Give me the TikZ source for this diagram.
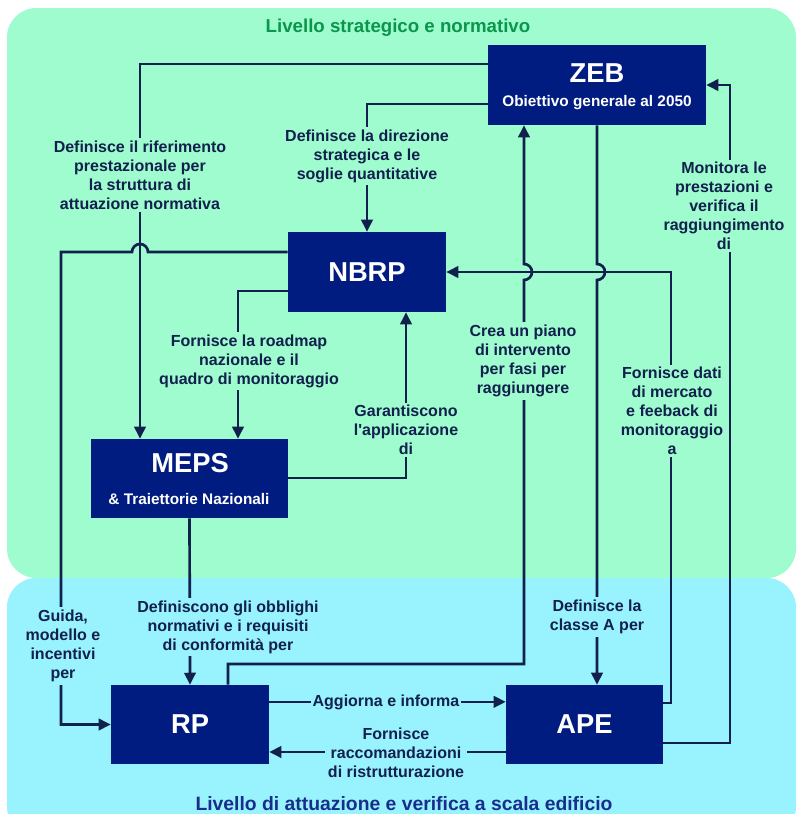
\documentclass[tikz,border=0pt]{standalone}
\usepackage{fontspec}
\setmainfont{Liberation Sans}
\usetikzlibrary{arrows.meta}

\definecolor{panelgreen}{RGB}{158,252,206}
\definecolor{panelblue}{RGB}{152,243,254}
\definecolor{boxnavy}{RGB}{0,28,128}
\definecolor{linenavy}{RGB}{18,32,78}
\definecolor{titlegreen}{RGB}{10,150,75}
\definecolor{titleblue}{RGB}{25,45,140}

\tikzset{
  block/.style={fill=boxnavy, inner sep=0pt},
  blocktxt/.style={text=white, font=\bfseries\fontsize{20.5}{24}\selectfont, inner sep=0pt},
  subtxt/.style={text=white, font=\bfseries\fontsize{11.5}{14}\selectfont, inner sep=0pt},
  lbl/.style={font=\bfseries\fontsize{12}{14.2}\selectfont, text=linenavy, align=center, inner sep=2pt},
  conn/.style={draw=linenavy, line width=2pt},
  arr/.style={conn, -{Triangle[length=9pt,width=8.5pt]}}
}

\begin{document}
\begin{tikzpicture}[x=0.75pt,y=0.75pt,yscale=-1,xscale=1]
\useasboundingbox (0,0) rectangle (797,814);

% Panels
\fill [panelgreen, rounded corners=22pt] (7,8) rectangle (796,578);
\fill [panelblue, rounded corners=22pt] (7,578) rectangle (796,836);
\node [anchor=base, text=titlegreen, font=\bfseries\fontsize{14}{16}\selectfont] (toptitle) at (398,32) {Livello strategico e normativo};
\node [anchor=base, text=titleblue, font=\bfseries\fontsize{14.5}{16}\selectfont] (bottitle) at (404,810) {Livello di attuazione e verifica a scala edificio};

% Blocks
\node [block, minimum width=163.5pt, minimum height=60pt] (zeb) at (597,85) {};
\node [blocktxt] (zebtxt) at (597,73) {ZEB};
\node [subtxt] (zebsub) at (597,103) {Obiettivo generale al 2050};
\node [block, minimum width=118.5pt, minimum height=60pt] (nbrp) at (367,272) {};
\node [blocktxt] (nbrptxt) at (367,272) {NBRP};
\node [block, minimum width=147.75pt, minimum height=59.25pt] (meps) at (189.5,478.5) {};
\node [blocktxt] (mepstxt) at (190,463) {MEPS};
\node [subtxt] (mepssub) at (189,499) {\& Traiettorie Nazionali};
\node [block, minimum width=118.5pt, minimum height=59.25pt] (rp) at (190,724.5) {};
\node [blocktxt] (rptxt) at (190,724.5) {RP};
\node [block, minimum width=117.75pt, minimum height=59.25pt] (ape) at (584.5,724.5) {};
\node [blocktxt] (apetxt) at (584.5,724.5) {APE};

% Bends
\coordinate (zm) at (140,64);
\coordinate (zn) at (367,104);
\coordinate (ng) at (61,252);
\coordinate (nm) at (238,291);
\coordinate (mn) at (406,478);
\coordinate (ra) at (228,664);
\coordinate (rb) at (524,664);
\coordinate (fb) at (671,272);
\coordinate (an) at (671,703);
\coordinate (am) at (730,743);

% Connectors
\draw [arr] (zeb.west |- zm) -| (meps.north -| zm);
\draw [arr] (zeb.west |- zn) -| (nbrp.north);
\draw [arr] (nbrp.west |- ng) -- ([xshift=6pt]zm |- ng) arc[start angle=0, end angle=-180, radius=8] -- (ng) |- (rp.west);
\draw [arr] (nbrp.west |- nm) -| (meps.north -| nm);
\draw [arr] (meps.east |- mn) -| (nbrp.south -| mn);
\draw [arr] (meps.south) -- (rp.north);
\draw [arr] (rp.north -| ra) -- (ra) -- (rb) -- ([yshift=6pt]rb |- fb) arc[start angle=90, end angle=-90, radius=8] -- (zeb.south -| rb);
\draw [arr] (zeb.south) -- ([yshift=-6pt]zeb.south |- fb) arc[start angle=-90, end angle=90, radius=8] -- (zeb.south |- ape.north);
\draw [arr] (ape.east |- an) -- (an) -- (fb) -- (nbrp.east |- fb);
\draw [arr] (ape.east |- am) -- (am) |- (zeb.east);
\draw [arr] ([yshift=-17pt]rp.east) -- ([yshift=-17pt]ape.west);
\draw [arr] ([yshift=20.6pt]ape.west) -- ([yshift=20.6pt]rp.east);

% Text Node
\node [lbl, fill=panelgreen] (l1) at (140,175) {Definisce il riferimento\\prestazionale per\\la struttura di\\attuazione normativa};
\node [lbl, fill=panelgreen] (l2) at (367,156) {Definisce la direzione\\strategica e le\\soglie quantitative};
\node [lbl, fill=panelgreen] (l3) at (249,361) {Fornisce la roadmap\\nazionale e il\\quadro di monitoraggio};
\node [lbl, fill=panelgreen] (l4) at (406,430) {Garantiscono\\l\textquotesingle applicazione\\di};
\node [lbl, fill=panelgreen] (l5) at (523,361) {Crea un piano\\di intervento\\per fasi per\\raggiungere};
\node [lbl, fill=panelgreen] (l6) at (672,411) {Fornisce dati\\di mercato\\e feeback di\\monitoraggio\\a};
\node [lbl, fill=panelgreen] (l7) at (724,206) {Monitora le\\prestazioni e\\verifica il\\raggiungimento\\di};
\node [lbl, fill=panelblue] (l8) at (63,646) {Guida,\\modello e\\incentivi\\per};
\node [lbl, fill=panelblue] (l9) at (228,627) {Definiscono gli obblighi\\normativi e i requisiti\\di conformità per};
\node [lbl, fill=panelblue] (l10) at (597,617) {Definisce la\\classe A per};
\node [lbl, fill=panelblue, inner sep=1pt] (l11) at (386,702) {Aggiorna e informa};
\node [lbl, fill=panelblue] (l12) at (396,753) {Fornisce\\raccomandazioni\\di ristrutturazione};

\end{tikzpicture}
\end{document}
